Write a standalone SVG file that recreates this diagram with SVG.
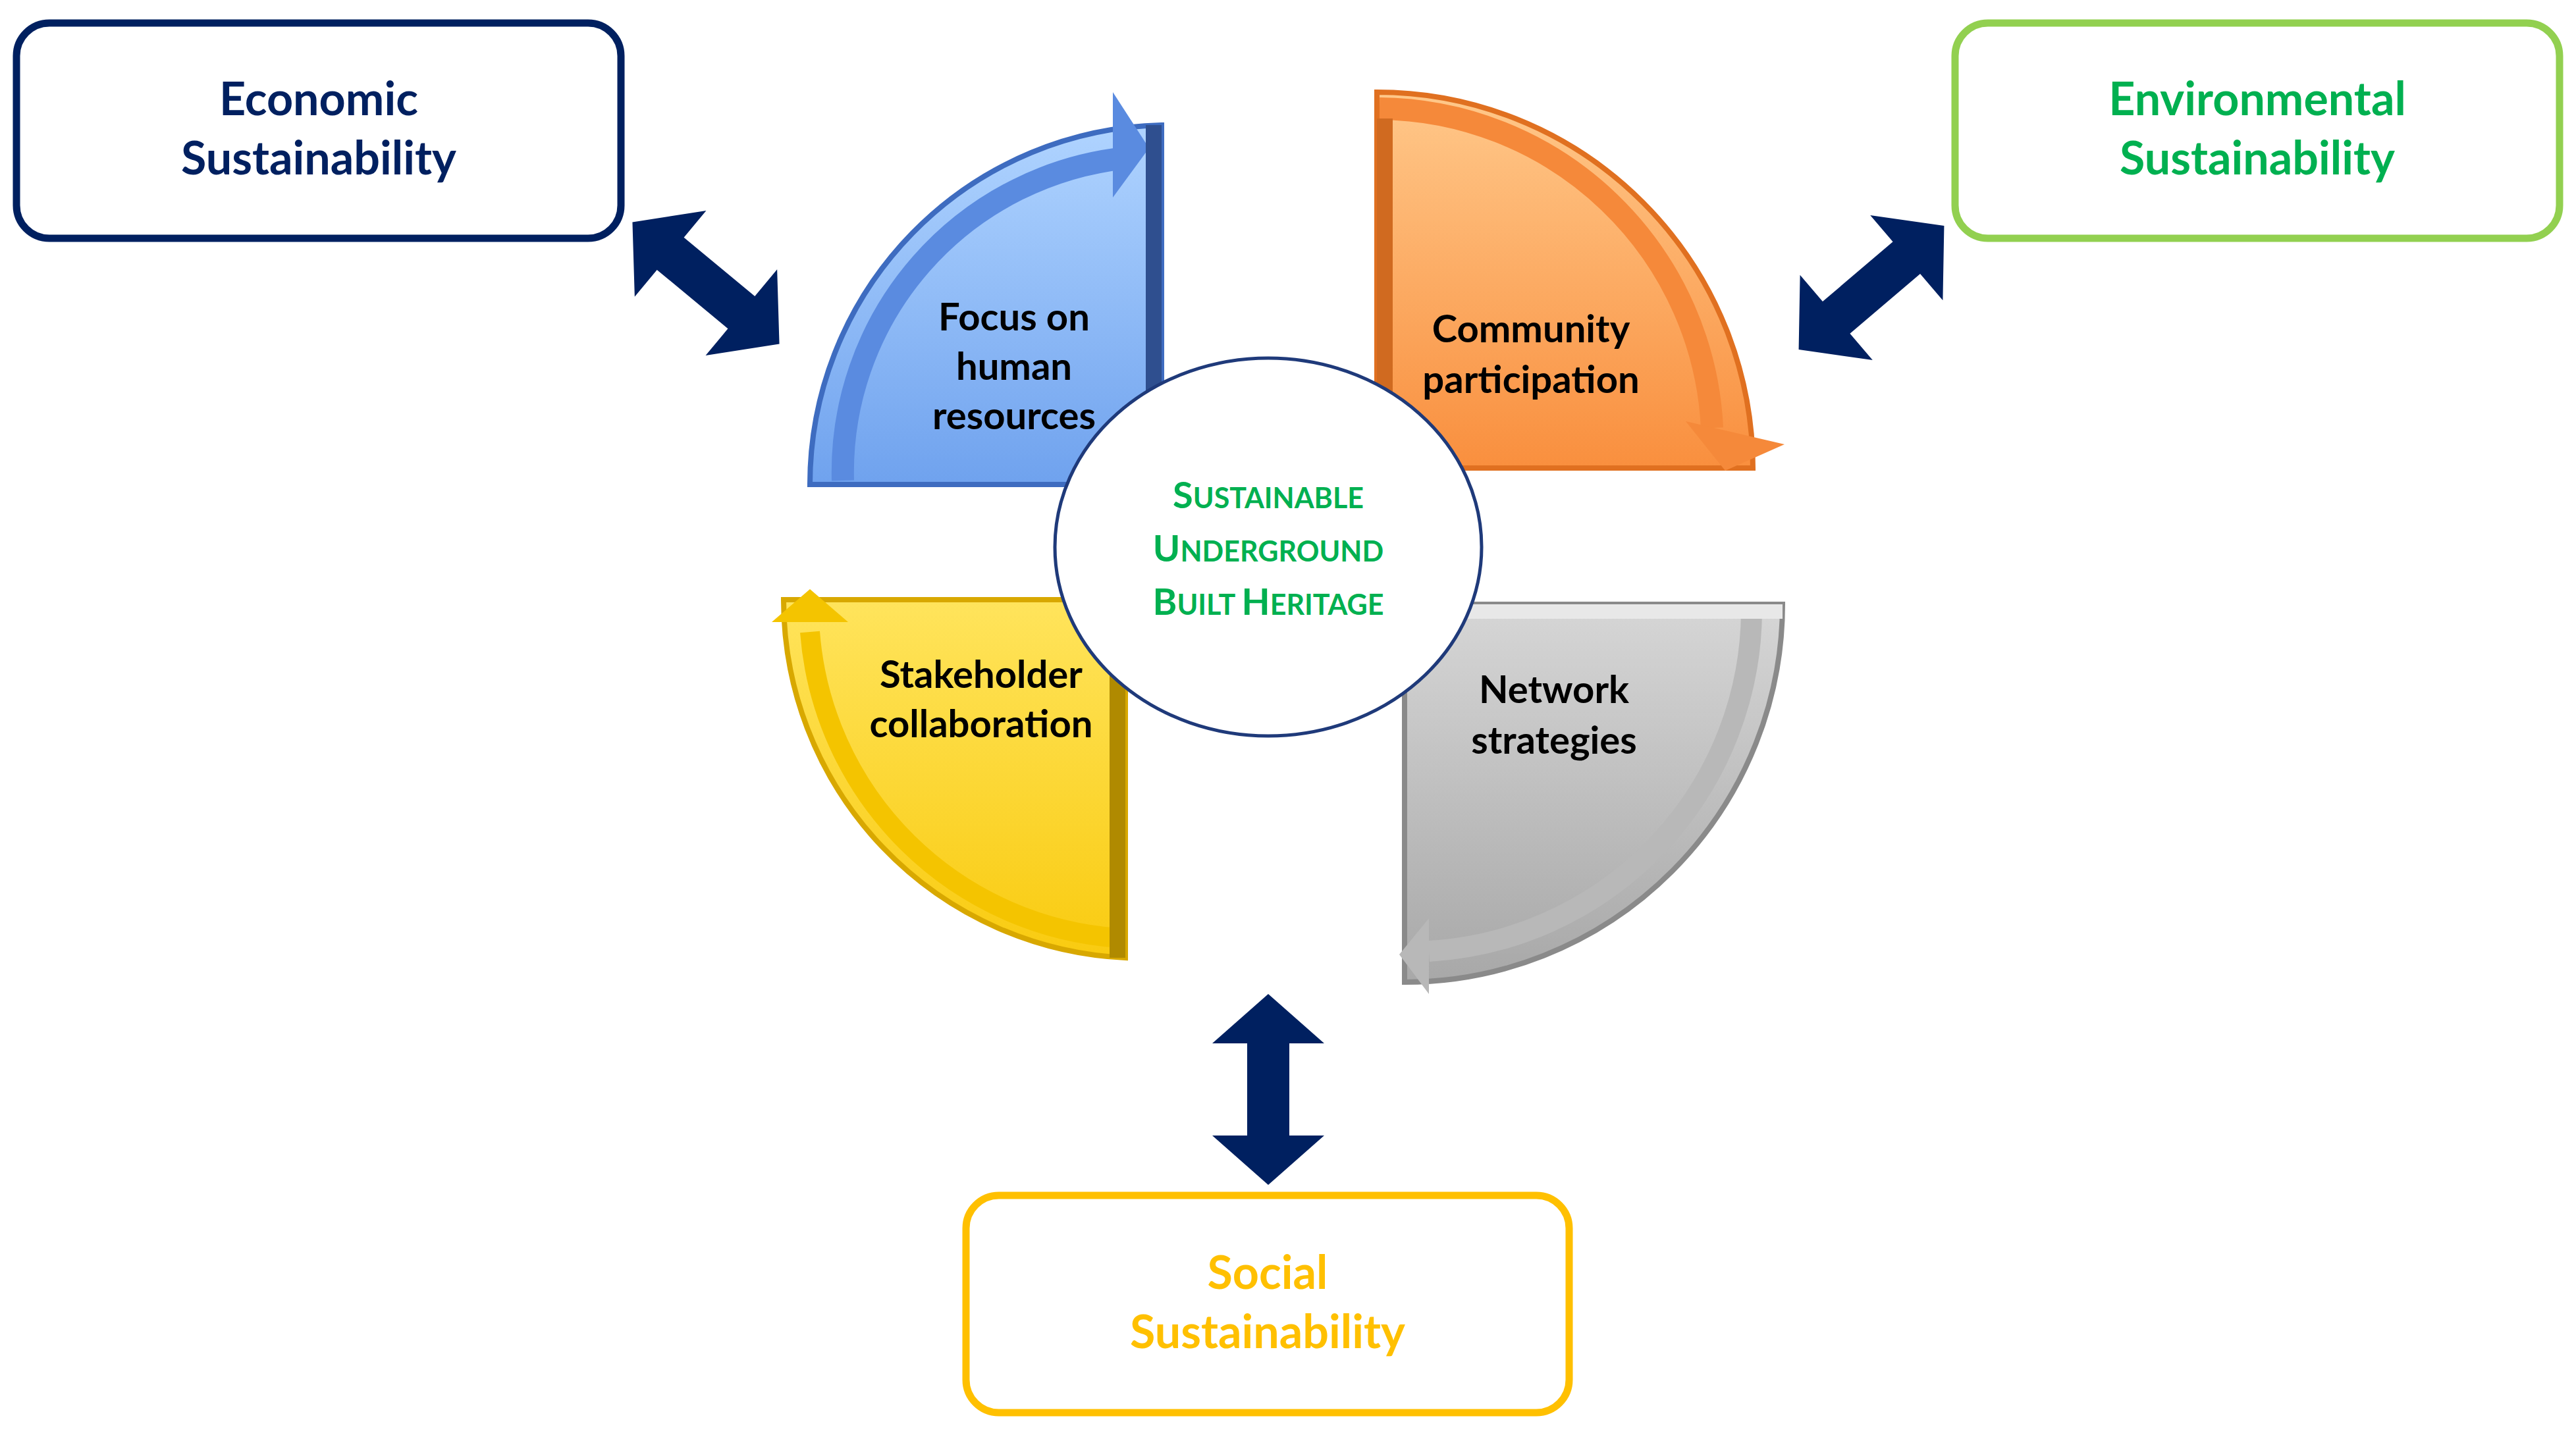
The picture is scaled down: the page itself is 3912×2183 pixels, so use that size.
<svg xmlns="http://www.w3.org/2000/svg" width="3912" height="2183" viewBox="0 0 3912 2183">
<defs>
<style>
.box{fill:#fff;stroke-width:11}
.bt{font-family:Lato,"Open Sans",sans-serif;font-weight:bold;font-size:70px;text-anchor:middle}
.qt{font-family:Lato,"Open Sans",sans-serif;font-weight:bold;font-size:58px;text-anchor:middle;fill:#000}
.ct{font-family:Lato,"Open Sans",sans-serif;font-weight:bold;font-size:56px;text-anchor:middle;fill:#00B050}
.sc{font-size:43px}
.dbl{fill:#002060}
</style>
<linearGradient id="gb" x1="0" y1="0" x2="0" y2="1"><stop offset="0" stop-color="#B0D4FF"/><stop offset="1" stop-color="#6FA2EE"/></linearGradient>
<linearGradient id="go" x1="0" y1="0" x2="0" y2="1"><stop offset="0" stop-color="#FFC88A"/><stop offset="1" stop-color="#F98F3E"/></linearGradient>
<linearGradient id="gy" x1="0" y1="0" x2="0" y2="1"><stop offset="0" stop-color="#FFE45C"/><stop offset="1" stop-color="#F9CB10"/></linearGradient>
<linearGradient id="gg" x1="0" y1="0" x2="0" y2="1"><stop offset="0" stop-color="#D6D6D6"/><stop offset="1" stop-color="#A8A8A8"/></linearGradient>
<polygon id="da" points="-145,0 -70,-85 -70,-32 70,-32 70,-85 145,0 70,85 70,32 -70,32 -70,85"/>
</defs>

<g id="connectors">
<use href="#da" class="dbl" transform="translate(1072,430) rotate(39.7)"/>
<use href="#da" class="dbl" transform="translate(2842,437) rotate(139.6)"/>
<use href="#da" class="dbl" transform="translate(1926,1655) rotate(90)"/>
</g>

<g id="economic">
<rect class="box" x="25" y="35" width="918" height="327" rx="50" stroke="#002060"/>
<text class="bt" fill="#002060" x="484" y="175">Economic</text>
<text class="bt" fill="#002060" x="484" y="265">Sustainability</text>
</g>
<g id="environmental">
<rect class="box" x="2969" y="35" width="918" height="327" rx="50" stroke="#92D050"/>
<text class="bt" fill="#00B050" x="3428" y="175">Environmental</text>
<text class="bt" fill="#00B050" x="3428" y="265">Sustainability</text>
</g>
<g id="social">
<rect class="box" x="1467" y="1816" width="916" height="330" rx="50" stroke="#FFC000"/>
<text class="bt" fill="#FFC000" x="1925" y="1958">Social</text>
<text class="bt" fill="#FFC000" x="1925" y="2048">Sustainability</text>
</g>

<g id="focus">
<path d="M1764,736 L1764,190 A546,546 0 0 0 1230,736 Z" fill="url(#gb)" stroke="#3E6CC0" stroke-width="8"/>
<path d="M1280,730 A480,480 0 0 1 1710,240" fill="none" stroke="#5A8BE0" stroke-width="34"/>
<polygon points="1690,140 1745,225 1690,300" fill="#5A8BE0"/>
<rect x="1740" y="190" width="24" height="546" fill="#2F4F8F"/>
<text class="qt" x="1540" y="502">Focus on</text>
<text class="qt" x="1540" y="577">human</text>
<text class="qt" x="1540" y="652">resources</text>
</g>

<g id="community">
<path d="M2091,711 L2091,140 A571,571 0 0 1 2662,711 Z" fill="url(#go)" stroke="#E07020" stroke-width="8"/>
<path d="M2095,165 A510,510 0 0 1 2600,650" fill="none" stroke="#F5893A" stroke-width="34"/>
<polygon points="2560,640 2710,675 2620,715" fill="#F5893A"/>
<rect x="2091" y="180" width="24" height="531" fill="#D06A20"/>
<text class="qt" x="2325" y="520">Community</text>
<text class="qt" x="2325" y="597">participation</text>
</g>

<g id="stakeholder">
<path d="M1709,911 L1709,1455 A544,544 0 0 1 1190,911 Z" fill="url(#gy)" stroke="#D8A800" stroke-width="8"/>
<path d="M1700,1425 A505,505 0 0 1 1230,960" fill="none" stroke="#F4C400" stroke-width="30"/>
<polygon points="1172,945 1230,895 1288,945" fill="#F4C400"/>
<rect x="1685" y="911" width="24" height="544" fill="#B08A00"/>
<text class="qt" x="1490" y="1045">Stakeholder</text>
<text class="qt" x="1490" y="1120">collaboration</text>
</g>

<g id="network">
<path d="M2133,918 L2707,918 A574,574 0 0 1 2133,1492 Z" fill="url(#gg)" stroke="#8A8A8A" stroke-width="8"/>
<path d="M2660,930 A520,520 0 0 1 2170,1445" fill="none" stroke="#B8B8B8" stroke-width="32"/>
<polygon points="2170,1395 2125,1450 2170,1510" fill="#B8B8B8"/>
<rect x="2133" y="918" width="574" height="22" fill="#E8E8E8"/>
<text class="qt" x="2360" y="1068">Network</text>
<text class="qt" x="2360" y="1145">strategies</text>
</g>

<g id="center">
<ellipse cx="1926" cy="831" rx="324" ry="287" fill="#fff" stroke="#1F3A7A" stroke-width="5"/>
<text class="ct" x="1926" y="772">S<tspan class="sc">USTAINABLE</tspan></text>
<text class="ct" x="1926" y="853">U<tspan class="sc">NDERGROUND</tspan></text>
<text class="ct" x="1926" y="934">B<tspan class="sc">UILT </tspan>H<tspan class="sc">ERITAGE</tspan></text>
</g>
</svg>
